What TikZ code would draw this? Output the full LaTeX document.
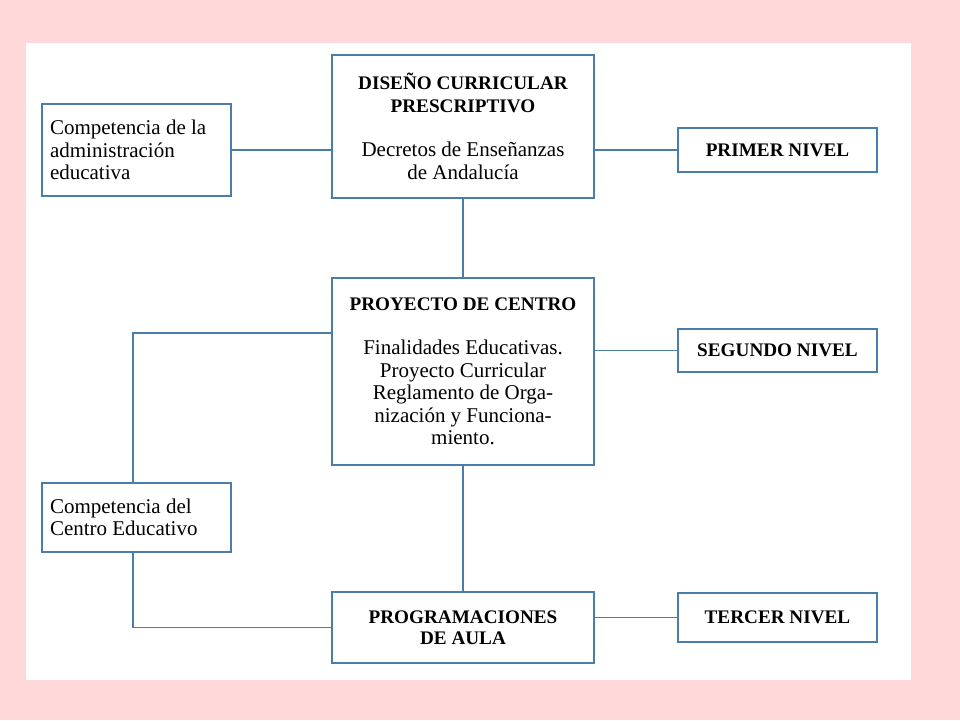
\documentclass[tikz,border=0pt]{standalone}
\usepackage{fontspec}
\setmainfont{Liberation Serif}

\definecolor{bordeazul}{RGB}{74,126,170}
\definecolor{fondorosa}{RGB}{255,217,217}
\newcommand{\cabecera}{\fontsize{9.6}{10.5}\selectfont\bfseries}

\begin{document}
\begin{tikzpicture}[x=0.5pt,y=-0.5pt,
	caja/.style={shape=rectangle,draw=bordeazul,line width=0.8pt,fill=white,inner sep=0pt,font=\fontsize{10.5}{11.25}\selectfont},
	nivel/.style={caja,font=\cabecera},
	linea/.style={draw=bordeazul,line width=0.8pt}]
	
	\fill[fondorosa] (0,0) rectangle (960,720);
	\fill[white] (26,43) rectangle (911,680);
	
	\node[caja,minimum width=94.5pt,minimum height=46pt,text width=86.5pt,align=flush left] (adm) at (136.5,150) {Competencia de la\\ administración\\ educativa};
	\node[caja,minimum width=131pt,minimum height=71.5pt,align=center] (dcp) at (463,126.5) {{\cabecera DISEÑO CURRICULAR}\\ {\cabecera PRESCRIPTIVO}\\[11pt] Decretos de Enseñanzas\\ de Andalucía};
	\node[nivel,minimum width=99.5pt,minimum height=22pt] (primer) at (777.5,150) {PRIMER NIVEL};
	
	\node[caja,minimum width=131pt,minimum height=93.5pt,align=center] (proy) at (463,371.5) {{\cabecera PROYECTO DE CENTRO}\\[11pt] Finalidades Educativas.\\ Proyecto Curricular\\ Reglamento de Orga-\\ nización y Funciona-\\ miento.};
	\node[nivel,minimum width=99.5pt,minimum height=21.5pt] (segundo) at (777.5,350.5) {SEGUNDO NIVEL};
	
	\node[caja,minimum width=94.5pt,minimum height=34.5pt,text width=86.5pt,align=flush left] (cdc) at (136.5,517.5) {Competencia del\\ Centro Educativo};
	\node[nivel,minimum width=131pt,minimum height=35.5pt,align=center] (prog) at (463,627.5) {PROGRAMACIONES\\ DE AULA};
	\node[nivel,minimum width=99.5pt,minimum height=24.5pt] (tercer) at (777.5,617.5) {TERCER NIVEL};
	
	\path[linea] (adm.east) -- (adm.east -| dcp.west);
	\path[linea] (dcp.east |- primer.west) -- (primer.west);
	\path[linea] (dcp.south) -- (proy.north);
	\path[linea] (proy.east |- segundo.west) -- (segundo.west);
	\path[linea] ([yshift=19.25pt]proy.west) -| ([xshift=-1.75pt]cdc.north);
	\path[linea] ([xshift=-1.75pt]cdc.south) |- (prog.west);
	\path[linea] (proy.south) -- (prog.north);
	\path[linea] (prog.east |- tercer.west) -- (tercer.west);
	
\end{tikzpicture}
\end{document}
